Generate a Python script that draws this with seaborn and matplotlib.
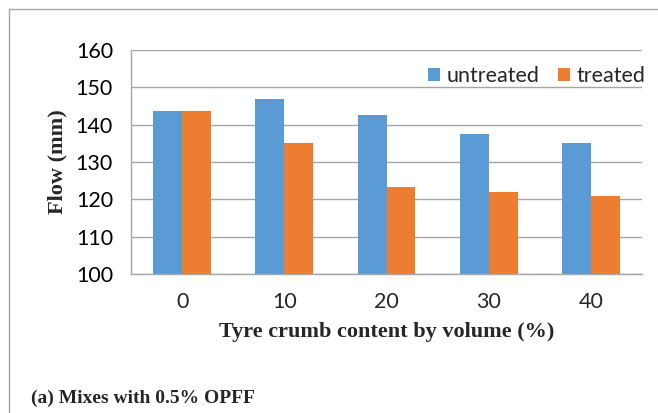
import matplotlib
matplotlib.use("Agg")
import matplotlib.pyplot as plt
import seaborn as sns
import pandas as pd
from matplotlib.lines import Line2D

categories = ["0", "10", "20", "30", "40"]
untreated = [143.7, 147.0, 142.7, 137.4, 135.0]
treated = [143.7, 135.0, 123.4, 122.0, 121.0]
series_names = ["untreated", "treated"]
colors = ["#5B9BD5", "#ED7D31"]
yticks = [100, 110, 120, 130, 140, 150, 160]

df = pd.DataFrame({
    "content": categories * 2,
    "flow": untreated + treated,
    "series": [series_names[0]] * len(categories) + [series_names[1]] * len(categories),
})

sns.set_theme(style="white")
plt.rcParams["font.family"] = ["Lato", "DejaVu Sans"]

fig = plt.figure(figsize=(6.58, 4.13), dpi=100)
ax = fig.add_axes([131/658, 1-274/413, (642-131)/658, (274-50)/413])

sns.barplot(data=df, x="content", y="flow", hue="series", order=categories,
            hue_order=series_names, palette=colors, width=0.565, ax=ax,
            saturation=1, linewidth=0, legend=True)

ax.set_ylim(100, 160)
ax.set_xlim(-0.5, len(categories) - 0.5)
ax.set_yticks(yticks)
ax.set_yticklabels([str(v) for v in yticks], fontsize=15.5, color="#000000")
ax.tick_params(axis="y", length=6, color="#A6A6A6", width=1, pad=7)
ax.tick_params(axis="x", which="major", length=0, pad=13, labelsize=15.5)
ax.set_xticks([i - 0.5 for i in range(len(categories) + 1)], minor=True)
ax.tick_params(axis="x", which="minor", length=6, color="#A6A6A6", width=1)
ax.yaxis.grid(True, color="#A6A6A6", linewidth=1)
ax.set_axisbelow(True)
for s in ["top", "right"]:
    ax.spines[s].set_visible(False)
for s in ["left", "bottom"]:
    ax.spines[s].set_color("#A6A6A6")
    ax.spines[s].set_linewidth(1)

ax.set_xlabel("Tyre crumb content by volume (%)", fontsize=16, fontweight="bold",
              family="Liberation Serif", labelpad=7)
ax.set_ylabel("Flow (mm)", fontsize=16, fontweight="bold",
              family="Liberation Serif", labelpad=6)

leg = ax.legend(loc="upper right", ncol=2, frameon=False, fontsize=15.5,
                handlelength=0.55, handleheight=0.55, handletextpad=0.3,
                columnspacing=0.9, bbox_to_anchor=(1.024, 0.965), borderaxespad=0)

fig.text(31/658, 1-398/413, "(a) Mixes with 0.5% OPFF", fontsize=14, fontweight="bold",
         family="Liberation Serif", va="center", ha="left")

fig.add_artist(Line2D([9/658, 9/658], [0, 1-9/413], transform=fig.transFigure,
                      color="#A6A6A6", linewidth=1))
fig.add_artist(Line2D([9/658, 1], [1-9/413, 1-9/413], transform=fig.transFigure,
                      color="#A6A6A6", linewidth=1))

fig.savefig("out.png", dpi=100)
